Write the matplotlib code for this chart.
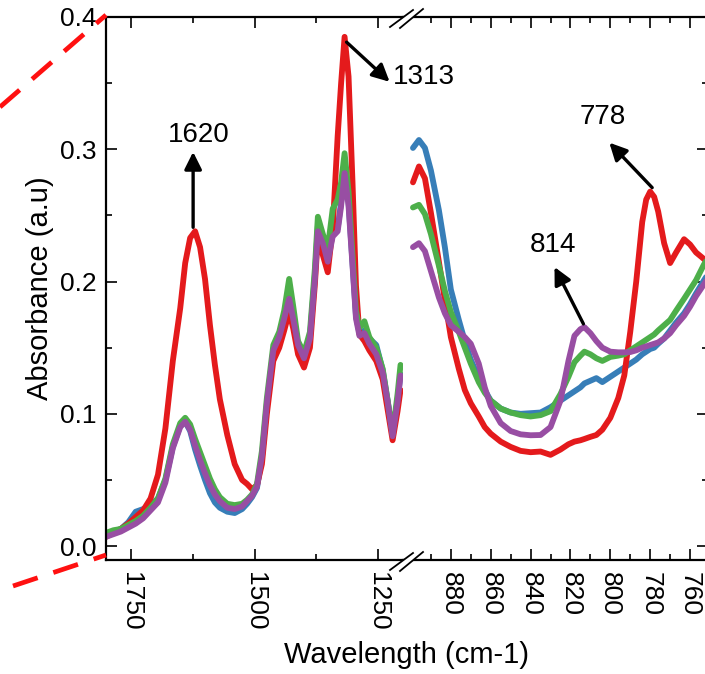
import numpy as np
import matplotlib.pyplot as plt
from matplotlib.lines import Line2D
from matplotlib.patches import Polygon
from matplotlib.ticker import MultipleLocator, FixedLocator

plt.rcParams['font.family'] = ['Liberation Sans', 'DejaVu Sans']

# left part of the broken axis (cm-1)
wn_left = [1800, 1785, 1770, 1755, 1740, 1725, 1710, 1695, 1680, 1665, 1650, 1640, 1630, 1620,
           1610, 1600, 1590, 1580, 1570, 1555, 1540, 1525, 1515, 1505, 1495, 1485, 1475, 1462,
           1450, 1440, 1430, 1422, 1412, 1400, 1388, 1378, 1372, 1362, 1352, 1342, 1332, 1325,
           1318, 1310, 1302, 1295, 1288, 1278, 1268, 1254, 1241, 1231, 1221, 1211, 1205]

blue_left = [0.008, 0.011, 0.013, 0.018, 0.026, 0.028, 0.031, 0.036, 0.050, 0.075, 0.091, 0.094,
             0.087, 0.073, 0.061, 0.050, 0.040, 0.033, 0.029, 0.026, 0.025, 0.028, 0.032, 0.037,
             0.044, 0.067, 0.106, 0.147, 0.158, 0.172, 0.190, 0.175, 0.152, 0.143, 0.158, 0.205,
             0.242, 0.231, 0.218, 0.236, 0.240, 0.260, 0.285, 0.260, 0.214, 0.174, 0.161, 0.163,
             0.157, 0.152, 0.133, 0.110, 0.084, 0.110, 0.130]

red_left = [0.007, 0.010, 0.013, 0.017, 0.022, 0.027, 0.036, 0.054, 0.089, 0.140, 0.180, 0.214,
            0.233, 0.238, 0.226, 0.202, 0.167, 0.137, 0.111, 0.084, 0.062, 0.050, 0.047, 0.043,
            0.046, 0.062, 0.100, 0.140, 0.150, 0.163, 0.177, 0.165, 0.145, 0.135, 0.150, 0.198,
            0.234, 0.220, 0.207, 0.240, 0.310, 0.350, 0.385, 0.355, 0.275, 0.197, 0.160, 0.155,
            0.148, 0.140, 0.126, 0.103, 0.080, 0.102, 0.118]

green_left = [0.010, 0.012, 0.013, 0.016, 0.019, 0.023, 0.029, 0.036, 0.051, 0.077, 0.093, 0.097,
              0.092, 0.081, 0.071, 0.061, 0.051, 0.043, 0.037, 0.032, 0.031, 0.032, 0.035, 0.039,
              0.047, 0.072, 0.112, 0.152, 0.162, 0.178, 0.202, 0.182, 0.155, 0.146, 0.162, 0.210,
              0.249, 0.236, 0.225, 0.255, 0.262, 0.275, 0.297, 0.268, 0.220, 0.178, 0.165, 0.170,
              0.158, 0.150, 0.134, 0.110, 0.085, 0.115, 0.137]

purple_left = [0.007, 0.009, 0.011, 0.014, 0.017, 0.021, 0.027, 0.033, 0.048, 0.074, 0.090, 0.094,
               0.088, 0.076, 0.065, 0.055, 0.046, 0.039, 0.034, 0.029, 0.028, 0.030, 0.034, 0.038,
               0.045, 0.068, 0.108, 0.148, 0.158, 0.172, 0.187, 0.172, 0.152, 0.142, 0.157, 0.202,
               0.238, 0.229, 0.215, 0.234, 0.238, 0.257, 0.282, 0.257, 0.212, 0.172, 0.159, 0.161,
               0.153, 0.145, 0.131, 0.109, 0.083, 0.109, 0.129]

# right part of the broken axis (cm-1)
wn_right = [899, 896, 893, 890, 886, 883, 880, 876, 873, 870, 866, 863, 860, 855, 850, 845, 840,
            835, 830, 825, 821, 818, 815, 813, 810, 807, 804, 800, 796, 793, 790, 787, 784, 782,
            780, 778, 776, 773, 770, 767, 763, 760, 757, 753, 750]

blue_right = [0.301, 0.307, 0.301, 0.284, 0.254, 0.226, 0.194, 0.171, 0.155, 0.141, 0.127, 0.118,
              0.110, 0.104, 0.101, 0.100, 0.1005, 0.101, 0.105, 0.110, 0.114, 0.117, 0.120, 0.123,
              0.125, 0.127, 0.124, 0.128, 0.132, 0.135, 0.138, 0.141, 0.145, 0.147, 0.149, 0.150,
              0.153, 0.157, 0.163, 0.169, 0.176, 0.183, 0.191, 0.201, 0.208]

red_right = [0.275, 0.287, 0.278, 0.252, 0.215, 0.186, 0.158, 0.134, 0.118, 0.108, 0.098, 0.090,
             0.085, 0.079, 0.075, 0.072, 0.071, 0.0715, 0.069, 0.073, 0.077, 0.079, 0.080, 0.081,
             0.0826, 0.084, 0.088, 0.097, 0.112, 0.129, 0.162, 0.200, 0.245, 0.262, 0.268, 0.264,
             0.253, 0.229, 0.214, 0.222, 0.232, 0.228, 0.222, 0.217, 0.212]

green_right = [0.256, 0.258, 0.251, 0.236, 0.212, 0.193, 0.177, 0.162, 0.150, 0.138, 0.124, 0.116,
               0.110, 0.104, 0.101, 0.099, 0.098, 0.099, 0.102, 0.115, 0.128, 0.139, 0.144, 0.147,
               0.145, 0.142, 0.140, 0.143, 0.144, 0.145, 0.148, 0.151, 0.154, 0.156, 0.158, 0.160,
               0.163, 0.167, 0.171, 0.178, 0.187, 0.194, 0.201, 0.213, 0.220]

purple_right = [0.226, 0.229, 0.223, 0.208, 0.188, 0.176, 0.167, 0.162, 0.158, 0.153, 0.138, 0.120,
                0.106, 0.093, 0.087, 0.0845, 0.0838, 0.084, 0.090, 0.110, 0.140, 0.159, 0.164,
                0.1655, 0.161, 0.155, 0.150, 0.147, 0.1465, 0.1465, 0.1467, 0.148, 0.150, 0.151,
                0.152, 0.153, 0.154, 0.157, 0.161, 0.167, 0.174, 0.181, 0.189, 0.198, 0.205]

left_ticks = [1750, 1500, 1250]
right_ticks = [880, 860, 840, 820, 800, 780, 760]

colors = ['#377EB8', '#E41A1C', '#4DAF4A', '#984EA3']

W, H = 705, 674
fig = plt.figure(figsize=(W / 100, H / 100), dpi=100)


def fx(px):
    return px / W


def fy(py):
    return 1 - py / H


# axes frame in pixels: left 106, top 17, bottom 560, break at 403, right 708
ax1 = fig.add_axes([fx(106), fy(560), fx(403) - fx(106), fy(17) - fy(560)])
ax2 = fig.add_axes([fx(403), fy(560), fx(708) - fx(403), fy(17) - fy(560)])
ax1.patch.set_visible(False)
ax2.patch.set_visible(False)

left_series = [blue_left, red_left, green_left, purple_left]
right_series = [blue_right, red_right, green_right, purple_right]
for c, yl, yr in zip(colors, left_series, right_series):
    ax1.plot(wn_left, yl, color=c, lw=4.2, solid_joinstyle='round', solid_capstyle='round')
    ax2.plot(wn_right, yr, color=c, lw=4.2, solid_joinstyle='round', solid_capstyle='round')

ymin, ymax = -0.0105, 0.4
ax1.set_xlim(1800, 1200)
ax2.set_xlim(904, 751)
for ax in (ax1, ax2):
    ax.set_ylim(ymin, ymax)
    ax.yaxis.set_major_locator(MultipleLocator(0.1))
    ax.yaxis.set_minor_locator(MultipleLocator(0.05))
    for s in ax.spines.values():
        s.set_linewidth(1.6)
    ax.tick_params(which='both', direction='in', width=1.2, top=True, bottom=True,
                   labelsize=19)
    ax.tick_params(which='major', length=8)
    ax.tick_params(which='minor', length=4)
    ax.tick_params(axis='x', labelrotation=-90, pad=9)

ax1.xaxis.set_major_locator(FixedLocator(left_ticks))
ax1.xaxis.set_minor_locator(FixedLocator([1625, 1375]))
ax1.spines['right'].set_visible(False)
ax1.tick_params(axis='y', which='both', right=False, pad=7)
ax1.yaxis.set_major_formatter(plt.FuncFormatter(lambda v, p: f'{v:.1f}'))

ax2.xaxis.set_major_locator(FixedLocator(right_ticks))
ax2.xaxis.set_minor_locator(FixedLocator([890, 870, 850, 830, 810, 790, 770, 750]))
ax2.spines['left'].set_visible(False)
ax2.tick_params(axis='y', which='both', left=False, right=True, labelleft=False)

ax1.set_ylabel('Absorbance (a.u)', fontsize=21, labelpad=4)
fig.text(fx(407), fy(655), 'Wavelength (cm-1)', fontsize=21, ha='center', va='center')

# annotations
arrow = dict(arrowstyle='-|>', color='black', lw=2.4, mutation_scale=26,
             shrinkA=0, shrinkB=0)
ax1.annotate('', xy=(1624, 0.298), xytext=(1624, 0.241), arrowprops=arrow)
ax1.text(1612, 0.311, '1620', fontsize=20, ha='center', va='center')
ax1.annotate('', xy=(1227, 0.351), xytext=(1314, 0.381), arrowprops=arrow)
ax1.text(1221, 0.355, '1313', fontsize=20, ha='left', va='center', clip_on=False)
ax2.annotate('', xy=(828, 0.211), xytext=(813.5, 0.168), arrowprops=arrow)
ax2.text(829, 0.228, '814', fontsize=20, ha='center', va='center')
ax2.annotate('', xy=(800.5, 0.305), xytext=(779, 0.271), arrowprops=arrow)
ax2.text(804, 0.3245, '778', fontsize=20, ha='center', va='center')

# axis break marks on top and bottom spines
for yc in (17, 560):
    l1 = [(fx(390), fy(yc + 10)), (fx(413), fy(yc - 7))]
    l2 = [(fx(400), fy(yc + 11)), (fx(423), fy(yc - 8))]
    gap = Polygon([l1[0], l1[1], l2[1], l2[0]], closed=True, transform=fig.transFigure,
                  facecolor='white', edgecolor='none', zorder=10)
    fig.add_artist(gap)
    for seg in (l1, l2):
        fig.add_artist(Line2D([seg[0][0], seg[1][0]], [seg[0][1], seg[1][1]],
                              transform=fig.transFigure, color='black', lw=1.3, zorder=11))

# red dashed zoom guides
for p0, p1 in (((0, 107), (106, 15)), ((13, 586), (106, 555))):
    fig.add_artist(Line2D([fx(p0[0]), fx(p1[0])], [fy(p0[1]), fy(p1[1])],
                          transform=fig.transFigure, color='#FF1010', lw=3.4,
                          dashes=(5.5, 3.5), zorder=12))

fig.savefig('out.png', dpi=100)
